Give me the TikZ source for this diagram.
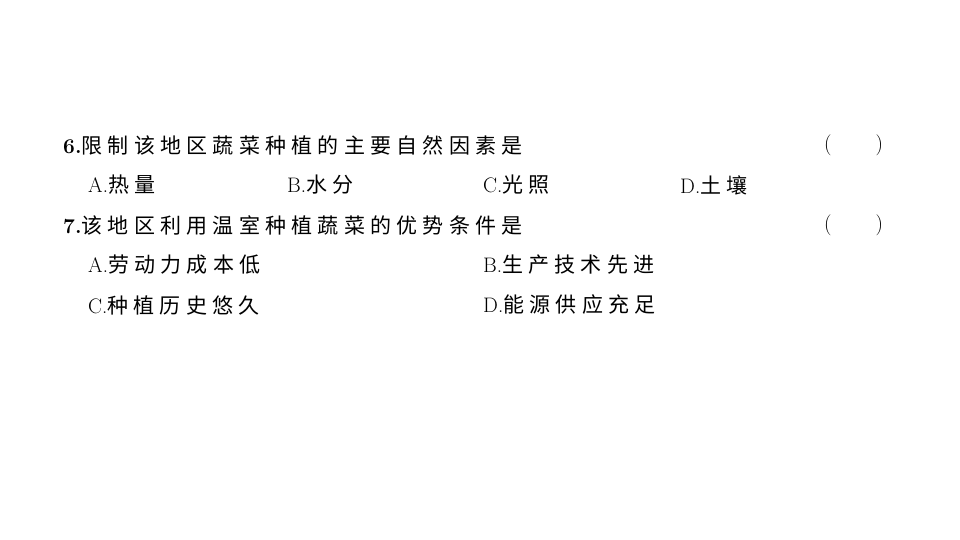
\documentclass[tikz,border=0pt]{standalone}
\usepackage{fontspec}
\newfontfamily\cjk[LetterSpace=25]{Noto Sans CJK SC}
\begin{document}
\begin{tikzpicture}[x=1pt,y=-1pt,
  t/.style={anchor=west,inner sep=0pt,font=\fontsize{21}{21}\selectfont}]
\useasboundingbox[fill=white] (0,0) rectangle (960,540);
\node[t] (q6) at (63,145) {\textbf{6.}\cjk 限制该地区蔬菜种植的主要自然因素是};
\node[t] (p6) at (824,145) {(\hspace{44pt})};
\node[t] (a6) at (88,185) {A.\cjk 热量};
\node[t] (b6) at (287,185) {B.\cjk 水分};
\node[t] (c6) at (483,185) {C.\cjk 光照};
\node[t] (d6) at (680,185) {D.\cjk 土壤};
\node[t] (q7) at (63,225) {\textbf{7.}\cjk 该地区利用温室种植蔬菜的优势条件是};
\node[t] (p7) at (824,225) {(\hspace{44pt})};
\node[t] (a7) at (88,265) {A.\cjk 劳动力成本低};
\node[t] (b7) at (483,265) {B.\cjk 生产技术先进};
\node[t] (c7) at (88,305) {C.\cjk 种植历史悠久};
\node[t] (d7) at (483,305) {D.\cjk 能源供应充足};
\end{tikzpicture}
\end{document}
